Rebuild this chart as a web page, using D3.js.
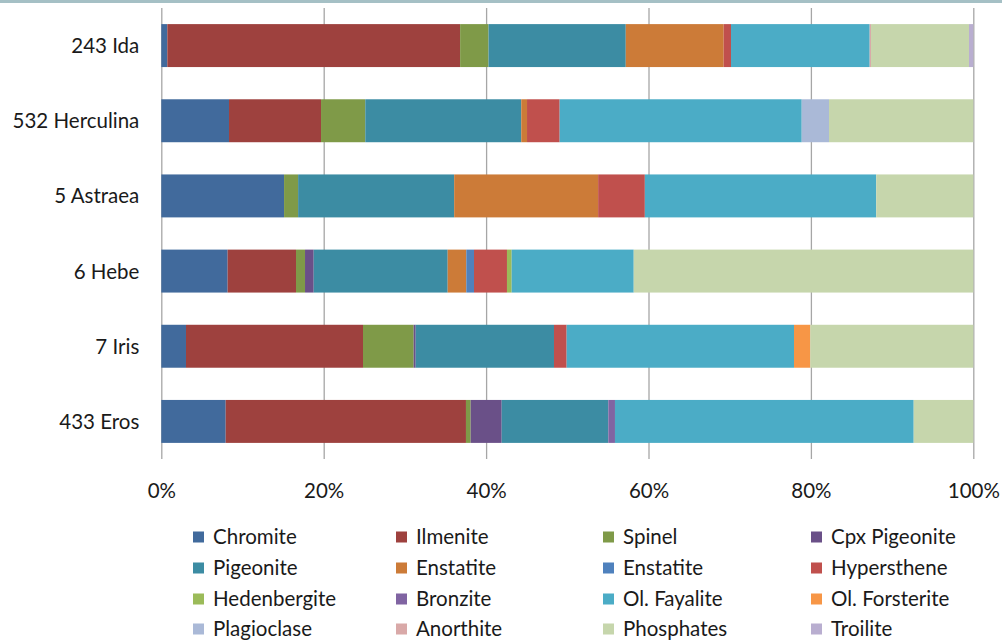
<!DOCTYPE html>
<html>
<head>
<meta charset="utf-8">
<script src="https://cdn.jsdelivr.net/npm/d3@7"></script>
<style>
  body { margin: 0; background: #fff; }
  svg text { font-family: Lato, "Open Sans", sans-serif; fill: #1a1a1a; }
</style>
</head>
<body>
<div id="canvas"></div>
<script>
// asteroid mineral composition, percent of total
var categories = ["243 Ida", "532 Herculina", "5 Astraea", "6 Hebe", "7 Iris", "433 Eros"];
var minerals = ["Chromite", "Ilmenite", "Spinel", "Cpx Pigeonite", "Pigeonite", "Enstatite",
                "Enstatite ", "Hypersthene", "Hedenbergite", "Bronzite", "Ol. Fayalite",
                "Ol. Forsterite", "Plagioclase", "Anorthite", "Phosphates", "Troilite"];

var chromite      = [0.74, 8.34, 15.11, 8.17, 3.04, 7.93];
var ilmenite      = [36.06, 11.33, 0, 8.42, 21.8, 29.59];
var spinel        = [3.5, 5.45, 1.73, 1.11, 6.24, 0.58];
var cpxPigeonite  = [0, 0, 0, 1.07, 0.25, 3.82];
var pigeonite     = [16.9, 19.21, 19.21, 16.5, 17.03, 13.13];
var enstatiteA    = [12.06, 0.71, 17.72, 2.29, 0, 0];
var enstatiteB    = [0, 0, 0, 0.95, 0, 0];
var hypersthene   = [0.9, 4.02, 5.75, 4.06, 1.56, 0];
var hedenbergite  = [0, 0, 0, 0.58, 0, 0];
var bronzite      = [0, 0, 0, 0, 0, 0.82];
var olFayalite    = [17.08, 29.81, 28.48, 15.03, 28.0, 36.79];
var olForsterite  = [0, 0, 0, 0, 2.01, 0];
var plagioclase   = [0, 3.36, 0, 0, 0, 0];
var anorthite     = [0.16, 0, 0, 0, 0, 0];
var phosphates    = [12.07, 17.77, 11.95, 41.82, 20.07, 7.34];
var troilite      = [0.53, 0, 0, 0, 0, 0];

var ticks = [0, 0.2, 0.4, 0.6, 0.8, 1];

var seriesValues = [chromite, ilmenite, spinel, cpxPigeonite, pigeonite, enstatiteA,
                    enstatiteB, hypersthene, hedenbergite, bronzite, olFayalite,
                    olForsterite, plagioclase, anorthite, phosphates, troilite];

var colors = ["#416a9c", "#9e413e", "#7f9a48", "#6a5088", "#3c8ca3", "#cc7b38",
              "#4f81bd", "#c0504d", "#9bbb59", "#8064a2", "#4bacc6", "#f79646",
              "#aab9d7", "#d9a9a8", "#c6d6ac", "#b9aed0"];

var canvas_d = {width: 1002, height: 641},
    plot = {left: 161.3, right: 973.3, top: 8, bottom: 459},
    fontSize = 20.5;

var table = categories.map(function(c, i) {
  var row = {category: c};
  minerals.forEach(function(m, j) { row[m] = seriesValues[j][i]; });
  return row;
});

var stack = d3.stack().keys(minerals).offset(d3.stackOffsetExpand);
var layers = stack(table);

var x = d3.scaleLinear().domain([0, 1]).range([plot.left, plot.right]);
var y = d3.scaleBand().domain(categories).range([plot.top, plot.bottom])
    .paddingInner(0.75 / 1.75).paddingOuter(0.75 / 3.5);

var canvas = d3.select('#canvas').append('svg')
    .attr('width', canvas_d.width)
    .attr('height', canvas_d.height);

// thin band along the top edge
canvas.append('rect')
    .attr('x', 0).attr('y', 0)
    .attr('width', canvas_d.width).attr('height', 3)
    .attr('fill', '#a5c0c5');

// gridlines
canvas.append('g')
    .attr('transform', 'translate(0,' + plot.bottom + ')')
    .call(d3.axisBottom(x).tickValues(ticks).tickSize(plot.bottom - plot.top).tickFormat(''))
    .call(function(g) {
      g.select('.domain').remove();
      g.selectAll('line').attr('stroke', '#a6a6a6').attr('stroke-width', 1.3)
        .attr('y2', -(plot.bottom - plot.top));
    });

// bars
canvas.append('g').selectAll('g')
    .data(layers)
  .enter().append('g')
    .attr('fill', function(d, i) { return colors[i]; })
  .selectAll('rect')
    .data(function(d) { return d; })
  .enter().append('rect')
    .attr('x', function(d) { return x(d[0]); })
    .attr('width', function(d) { return x(d[1]) - x(d[0]); })
    .attr('y', function(d) { return y(d.data.category); })
    .attr('height', y.bandwidth());

// category labels
canvas.append('g')
    .attr('transform', 'translate(' + plot.left + ',1)')
    .call(d3.axisLeft(y).tickSize(0).tickPadding(22))
    .call(function(g) {
      g.select('.domain').remove();
      g.selectAll('text').attr('font-size', fontSize).style('font-family', 'Lato, sans-serif').attr('fill', '#1a1a1a');
    });

// percent labels
canvas.append('g')
    .attr('transform', 'translate(0,' + plot.bottom + ')')
    .call(d3.axisBottom(x).tickValues(ticks).tickSize(0).tickPadding(24).tickFormat(d3.format('.0%')))
    .call(function(g) {
      g.select('.domain').remove();
      g.selectAll('text').attr('font-size', fontSize).style('font-family', 'Lato, sans-serif').attr('fill', '#1a1a1a');
    });

// legend, 4 columns
var colX = [193, 396, 603, 811],
    rowY = [537, 568, 599, 629];

var legend = canvas.append('g').selectAll('g')
    .data(minerals)
  .enter().append('g')
    .attr('transform', function(d, i) {
      return 'translate(' + colX[i % 4] + ',' + rowY[Math.floor(i / 4)] + ')';
    });

legend.append('rect')
    .attr('x', 0).attr('y', -5.5)
    .attr('width', 11).attr('height', 11)
    .attr('fill', function(d, i) { return colors[i]; });

legend.append('text')
    .attr('x', 20).attr('dy', '0.35em')
    .attr('font-size', fontSize)
    .text(function(d) { return d.trim(); });
</script>
</body>
</html>
